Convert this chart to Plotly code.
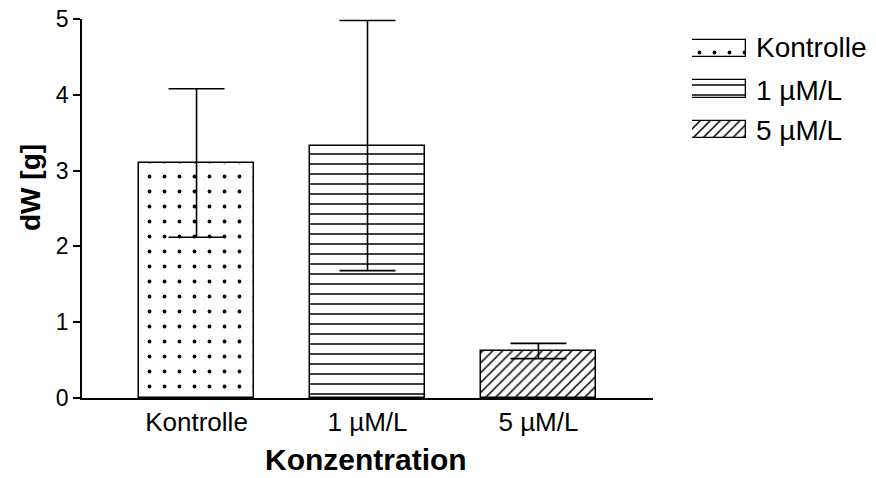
import plotly.graph_objects as go

# Dry-weight change per treatment group (mean ± SD)
categories = ["Kontrolle", "1 µM/L", "5 µM/L"]
means = [3.10, 3.33, 0.62]
errors = [0.98, 1.65, 0.10]
y_ticks = [0, 1, 2, 3, 4, 5]

W, H = 876, 478
FONT = "Liberation Sans, Arial, sans-serif"

# fill patterns per group: dots, horizontal lines, diagonal hatching
patterns = [
    dict(shape=".", size=15, solidity=0.05),
    dict(shape="-", size=10, solidity=0.15),
    dict(shape="/", size=7, solidity=0.22),
]


def px_x(p):
    return p / W


def px_y(p):
    return 1 - p / H


fig = go.Figure()

for i, cat in enumerate(categories):
    pat = dict(fgcolor="black", bgcolor="white", fgopacity=1,
               fillmode="replace", **patterns[i])
    fig.add_trace(go.Bar(
        x=[i], y=[means[i]], width=0.672,
        marker=dict(color="white", pattern=pat, line=dict(color="black", width=1.5)),
        error_y=dict(type="data", array=[errors[i]], symmetric=True,
                     color="black", thickness=1.6, width=28),
        showlegend=False, hoverinfo="skip",
    ))
    # legend swatch drawn in a small inset axis
    fig.add_trace(go.Bar(
        x=[1], y=[i], base=0, orientation="h", width=0.42,
        marker=dict(color="white", pattern=pat, line=dict(color="black", width=1.3)),
        xaxis="x2", yaxis="y2", showlegend=False, hoverinfo="skip",
    ))

# main plot area in pixels
x0, x1 = 82, 653
y_top, y_bot = 19, 398

fig.update_layout(
    width=W, height=H,
    margin=dict(l=0, r=0, t=0, b=0),
    paper_bgcolor="white", plot_bgcolor="white",
    font=dict(family=FONT, color="black"),
    bargap=0,
    xaxis=dict(
        domain=[px_x(x0), px_x(x1)],
        range=[-0.67, 2.67],
        tickmode="array", tickvals=list(range(len(categories))), ticktext=categories,
        ticks="", showline=True, linecolor="black", linewidth=1.5,
        showgrid=False, zeroline=False, automargin=False,
        tickfont=dict(size=26, family=FONT, color="black"),
        anchor="y",
    ),
    yaxis=dict(
        domain=[px_y(y_bot), px_y(y_top)],
        range=[0, 5],
        tickmode="array", tickvals=y_ticks, ticktext=[str(v) for v in y_ticks],
        ticks="outside", ticklen=7, tickwidth=1.5, tickcolor="black",
        showline=True, linecolor="black", linewidth=1.5,
        showgrid=False, zeroline=False, automargin=False,
        tickfont=dict(size=23, family=FONT, color="black"),
        anchor="x",
    ),
    xaxis2=dict(
        domain=[px_x(692), px_x(746)], range=[0, 1],
        visible=False, fixedrange=True, anchor="y2",
    ),
    yaxis2=dict(
        domain=[px_y(148), px_y(30)], range=[2.45, -0.45],
        visible=False, fixedrange=True, anchor="x2",
    ),
)

# legend labels
legend_y = [47, 90, 130]
for i, cat in enumerate(categories):
    fig.add_annotation(
        x=px_x(754), y=px_y(legend_y[i]), xref="paper", yref="paper",
        text=cat, showarrow=False, xanchor="left", yanchor="middle",
        font=dict(size=28, family=FONT, color="black"),
    )

# axis titles
fig.add_annotation(
    x=px_x(366), y=px_y(459), xref="paper", yref="paper",
    text="<b>Konzentration</b>", showarrow=False, xanchor="center", yanchor="middle",
    font=dict(size=30, family=FONT, color="black"),
)
fig.add_annotation(
    x=px_x(30), y=px_y(188), xref="paper", yref="paper",
    text="<b>dW [g]</b>", showarrow=False, textangle=-90,
    xanchor="center", yanchor="middle",
    font=dict(size=28, family=FONT, color="black"),
)

fig.write_html("out.html")
